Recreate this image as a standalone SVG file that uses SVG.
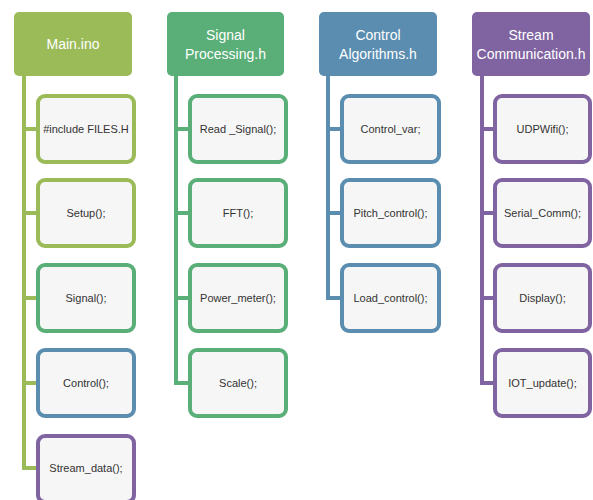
<svg xmlns="http://www.w3.org/2000/svg" width="593" height="500" viewBox="0 0 593 500">
<style>
.hdr{stroke:none}
.hdr text,.ht{fill:#ffffff;font-family:"Liberation Sans",Arial,sans-serif;font-size:14px;text-anchor:middle}
.box{fill:#f6f6f6;stroke-width:4}
.bt{fill:#333333;font-family:"Liberation Sans",Arial,sans-serif;font-size:11px;text-anchor:middle}
.ol{stroke:#9bbb59}.gr{stroke:#5aae78}.bl{stroke:#5a8db0}.pu{stroke:#8064a2}
.ln{fill:none;stroke-width:4;stroke-linejoin:miter}
</style>
<rect width="593" height="500" fill="#ffffff"/>
<g id="connectors">
<path class="ln ol" d="M24 76 V468 H38 M24 129 H38 M24 213 H38 M24 298 H38 M24 383 H38"/>
<path class="ln gr" d="M176 76 V383 H190 M176 129 H190 M176 213 H190 M176 298 H190"/>
<path class="ln bl" d="M328 76 V298 H342 M328 129 H342 M328 213 H342"/>
<path class="ln pu" d="M482 76 V383 H495 M482 129 H495 M482 213 H495 M482 298 H495"/>
</g>
<g id="main">
<rect x="14" y="12" width="118" height="64" rx="5" fill="#9bbb59"/>
<text class="ht" x="73" y="49">Main.ino</text>
</g>
<g id="signal">
<rect x="167" y="12" width="117" height="64" rx="5" fill="#5aae78"/>
<text class="ht" x="225.5" y="40">Signal</text>
<text class="ht" x="225.5" y="59">Processing.h</text>
</g>
<g id="control">
<rect x="319" y="12" width="118" height="64" rx="5" fill="#5a8db0"/>
<text class="ht" x="378" y="40">Control</text>
<text class="ht" x="378" y="59">Algorithms.h</text>
</g>
<g id="stream">
<rect x="472" y="12" width="118" height="64" rx="5" fill="#8064a2"/>
<text class="ht" x="531" y="40">Stream</text>
<text class="ht" x="531" y="59">Communication.h</text>
</g>
<g id="m1"><rect class="box ol" x="38" y="96" width="96" height="66" rx="7"/><text class="bt" x="86" y="133">#include FILES.H</text></g>
<g id="m2"><rect class="box ol" x="38" y="180" width="96" height="66" rx="7"/><text class="bt" x="86" y="217">Setup();</text></g>
<g id="m3"><rect class="box gr" x="38" y="265" width="96" height="66" rx="7"/><text class="bt" x="86" y="302">Signal();</text></g>
<g id="m4"><rect class="box bl" x="38" y="350" width="96" height="66" rx="7"/><text class="bt" x="86" y="387">Control();</text></g>
<g id="m5"><rect class="box pu" x="38" y="436" width="96" height="66" rx="7"/><text class="bt" x="86" y="472">Stream_data();</text></g>
<g id="s1"><rect class="box gr" x="190" y="96" width="96" height="66" rx="7"/><text class="bt" x="238" y="133">Read _Signal();</text></g>
<g id="s2"><rect class="box gr" x="190" y="180" width="96" height="66" rx="7"/><text class="bt" x="238" y="217">FFT();</text></g>
<g id="s3"><rect class="box gr" x="190" y="265" width="96" height="66" rx="7"/><text class="bt" x="238" y="302">Power_meter();</text></g>
<g id="s4"><rect class="box gr" x="190" y="350" width="96" height="66" rx="7"/><text class="bt" x="238" y="387">Scale();</text></g>
<g id="c1"><rect class="box bl" x="342" y="96" width="97" height="66" rx="7"/><text class="bt" x="390.5" y="133">Control_var;</text></g>
<g id="c2"><rect class="box bl" x="342" y="180" width="97" height="66" rx="7"/><text class="bt" x="390.5" y="217">Pitch_control();</text></g>
<g id="c3"><rect class="box bl" x="342" y="265" width="97" height="66" rx="7"/><text class="bt" x="390.5" y="302">Load_control();</text></g>
<g id="t1"><rect class="box pu" x="495" y="96" width="95" height="66" rx="7"/><text class="bt" x="542.5" y="133">UDPWifi();</text></g>
<g id="t2"><rect class="box pu" x="495" y="180" width="95" height="66" rx="7"/><text class="bt" x="542.5" y="217">Serial_Comm();</text></g>
<g id="t3"><rect class="box pu" x="495" y="265" width="95" height="66" rx="7"/><text class="bt" x="542.5" y="302">Display();</text></g>
<g id="t4"><rect class="box pu" x="495" y="350" width="95" height="66" rx="7"/><text class="bt" x="542.5" y="387">IOT_update();</text></g>
</svg>
